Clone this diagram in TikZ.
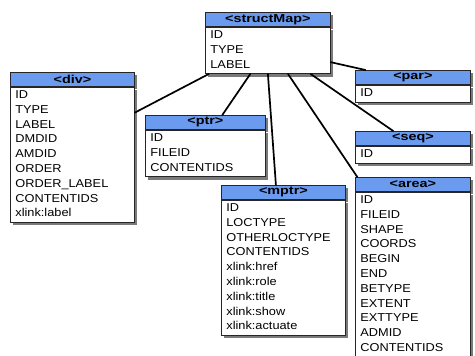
\documentclass[tikz,border=0pt]{standalone}
\usepackage{fontspec}
\setmainfont{Liberation Sans}[FakeStretch=1.12]
\newfontfamily\headfont{Liberation Sans}[FakeStretch=1.25]
\usetikzlibrary{positioning,shadows,calc}
\definecolor{headblue}{HTML}{6B9BEF}
\tikzset{>=stealth,
  boxshadow/.style={drop shadow={shadow xshift=3pt,shadow yshift=-3pt,fill=black!65,opacity=.8}},
  boxhead/.style={draw=black!85, fill=headblue, line width=.8pt, anchor=north west, minimum width=#1, minimum height=14pt, inner sep=0pt, font=\headfont\bfseries\fontsize{11.5}{12}\selectfont, boxshadow},
  boxbody/.style={draw=black!85, fill=white, line width=.8pt, text width=#1, inner xsep=5pt, inner ysep=1pt, align=left, font=\fontsize{11.4}{14.8}\selectfont, execute at begin node=\strut, execute at end node=\strut, boxshadow},
  link/.style={line width=1.7pt, line cap=round}
}

\begin{document}
\begin{tikzpicture}[x=1pt,y=-1pt]
    \useasboundingbox (0,0) rectangle (475,356);
    \node[boxhead=125pt] (smap) at (205,12) {<structMap>};
    \node[boxbody=115pt, below=0pt of smap] (smapb) {ID\\TYPE\\LABEL};
    \node[boxhead=124pt] (div) at (10,72) {<div>};
    \node[boxbody=114pt, below=0pt of div] (divb) {ID\\TYPE\\LABEL\\DMDID\\AMDID\\ORDER\\ORDER\_LABEL\\CONTENTIDS\\xlink:label};
    \node[boxhead=120pt] (ptr) at (145,115) {<ptr>};
    \node[boxbody=110pt, below=0pt of ptr] (ptrb) {ID\\FILEID\\CONTENTIDS};
    \node[boxhead=124pt] (mptr) at (221,185) {<mptr>};
    \node[boxbody=114pt, below=0pt of mptr] (mptrb) {ID\\LOCTYPE\\OTHERLOCTYPE\\CONTENTIDS\\xlink:href\\xlink:role\\xlink:title\\xlink:show\\xlink:actuate};
    \node[boxhead=115pt] (par) at (355,70) {<par>};
    \node[boxbody=105pt, below=0pt of par] (parb) {ID};
    \node[boxhead=115pt] (seq) at (355,131) {<seq>};
    \node[boxbody=105pt, below=0pt of seq] (seqb) {ID};
    \node[boxhead=115pt] (area) at (355,177) {<area>};
    \node[boxbody=105pt, below=0pt of area] (areab) {ID\\FILEID\\SHAPE\\COORDS\\BEGIN\\END\\BETYPE\\EXTENT\\EXTTYPE\\ADMID\\CONTENTIDS};
    \draw[link] ($(smapb.south west)!.03!(smapb.south east)$) -- ($(divb.north east)!.19!(divb.south east)$);
    \draw[link] ($(smapb.south west)!.36!(smapb.south east)$) -- ($(ptr.north west)!.64!(ptr.north east)$);
    \draw[link] ($(smapb.south west)!.5!(smapb.south east)$) -- ($(mptr.north west)!.44!(mptr.north east)$);
    \draw[link] ($(smapb.south west)!.66!(smapb.south east)$) -- ($(area.north west)!.02!(area.north east)$);
    \draw[link] ($(smapb.south west)!.84!(smapb.south east)$) -- ($(seq.north west)!.33!(seq.north east)$);
    \draw[link] ($(smapb.north east)!.75!(smapb.south east)$) -- ($(par.north west)!.09!(par.north east)$);
\end{tikzpicture}
\end{document}
